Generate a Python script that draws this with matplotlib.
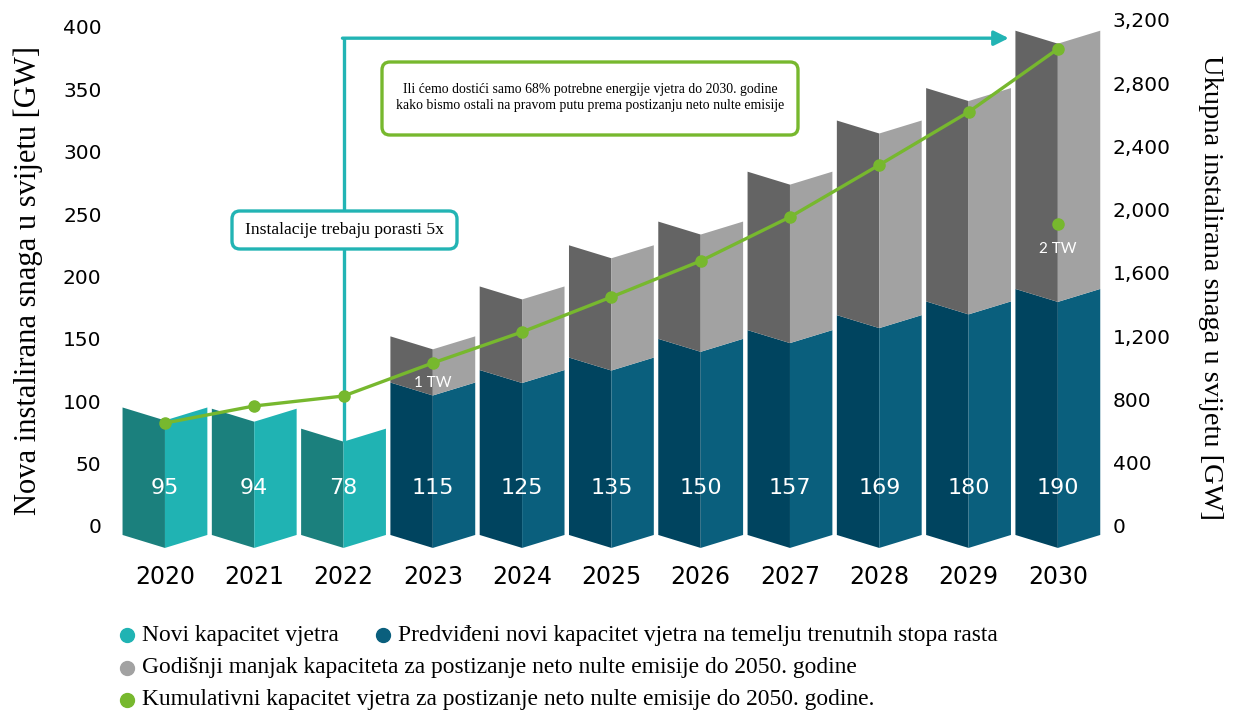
"""Nova i kumulativna instalirana snaga vjetra (2020-2030), presavijeni stupci."""

import matplotlib
import numpy as np

matplotlib.use("Agg")
import matplotlib.pyplot as plt
from matplotlib.lines import Line2D
from matplotlib.patches import FancyBboxPatch, Polygon

SERIF = ["Liberation Serif", "DejaVu Serif"]
SANS = ["DejaVu Sans"]
SMALL = ["Lato", "DejaVu Sans"]

years = ["2020", "2021", "2022", "2023", "2024", "2025", "2026", "2027", "2028", "2029", "2030"]
new_actual = [95, 94, 78]                                   # 2020-2022
new_projected = [115, 125, 135, 150, 157, 169, 180, 190]    # 2023-2030
shortfall = [37, 67, 90, 94, 127, 156, 171, 207]            # 2023-2030
cumulative_nz = [651, 759, 822, 1031, 1227, 1448, 1676, 1954, 2283, 2618, 3017]
current_2030 = 1910

C_TEAL = ("#1b807d", "#20b3b3")
C_BLUE = ("#00445f", "#0a5f7d")
C_GRAY = ("#646464", "#a2a2a2")
C_GREEN = "#77b82e"
C_ARROW = "#22b4b4"

W = 0.475    # pola sirine stupca
D = 10.4     # dubina pregiba
BASE = -7.2


def folded(ax, x, y0, y1, colors):
    left = [(x - W, y0), (x, y0 - D), (x, y1 - D), (x - W, y1)]
    right = [(x, y0 - D), (x + W, y0), (x + W, y1), (x, y1 - D)]
    ax.add_patch(Polygon(left, closed=True, fc=colors[0], ec="none", zorder=2))
    ax.add_patch(Polygon(right, closed=True, fc=colors[1], ec="none", zorder=2))


def box(fig, px, py, pw, ph, color):
    # okvir u pikselima slike (gore-lijevo ishodiste), crta se u inchima
    fig.add_artist(FancyBboxPatch(
        (px / 100, (713 - py - ph) / 100), pw / 100, ph / 100,
        boxstyle="round,pad=0,rounding_size=0.08", fc="white", ec=color, lw=2.4,
        transform=fig.dpi_scale_trans, zorder=5))


fig = plt.figure(figsize=(12.34, 7.13), dpi=100)
ax = fig.add_axes([0.0891, 0.2098, 0.807, 0.7622])
ax.set_xlim(-0.616, 10.537)
ax.set_ylim(-30, 405.6)
ax2 = ax.twinx()
ax2.set_ylim(-236.7, 3200)

x = np.arange(len(years))
for i, v in enumerate(new_actual):
    folded(ax, x[i], BASE, v, C_TEAL)
    ax.text(x[i], 30.5, str(v), color="white", ha="center", va="center",
            fontsize=16, family=SANS, zorder=4)
for j, (b, g) in enumerate(zip(new_projected, shortfall)):
    i = j + len(new_actual)
    folded(ax, x[i], BASE, b, C_BLUE)
    folded(ax, x[i], b, b + g, C_GRAY)
    ax.text(x[i], 30.5, str(b), color="white", ha="center", va="center",
            fontsize=16, family=SANS, zorder=4)

# strelica "5x"
ax.plot([x[2], x[2]], [new_actual[2] - D, 391], color=C_ARROW, lw=2.4, zorder=3,
        solid_capstyle="butt")
ax.annotate("", xy=(9.45, 391), xytext=(x[2] - 0.012, 391),
            arrowprops=dict(arrowstyle="-|>", color=C_ARROW, lw=2.4,
                            mutation_scale=22, shrinkA=0, shrinkB=0), zorder=3)

box(fig, 232, 211, 225, 38, C_ARROW)
fig.text(344.5 / 1234, 1 - 230 / 713, "Instalacije trebaju porasti 5x",
         ha="center", va="center", fontsize=12.6, family=SERIF, zorder=6)
box(fig, 382, 62, 416, 73, C_GREEN)
fig.text(590 / 1234, 1 - 97.5 / 713,
         "Ili ćemo dostići samo 68% potrebne energije vjetra do 2030. godine\n"
         "kako bismo ostali na pravom putu prema postizanju neto nulte emisije",
         ha="center", va="center", fontsize=9.9, family=SERIF, linespacing=1.35,
         zorder=6)

# kumulativna linija
ax2.plot(x, cumulative_nz, color=C_GREEN, lw=2.4, marker="o", ms=8, zorder=6)
ax2.plot([x[-1]], [current_2030], color=C_GREEN, marker="o", ms=8, ls="none", zorder=6)
ax2.text(x[3], 905, "1 TW", color="white", ha="center", va="center", fontsize=11,
         family=SMALL, zorder=6)
ax2.text(x[-1], 1750, "2 TW", color="white", ha="center", va="center", fontsize=11,
         family=SMALL, zorder=6)

ax.set_yticks(np.arange(0, 401, 50))
ax.set_yticklabels([str(v) for v in range(0, 401, 50)], family=SANS, fontsize=14.5)
ax2.set_yticks(np.arange(0, 3201, 400))
ax2.set_yticklabels([f"{v:,}" for v in range(0, 3201, 400)], family=SANS, fontsize=14.5)
ax.set_xticks(x)
ax.set_xticklabels(years, family=SANS, fontsize=17)
ax.tick_params(axis="x", length=0, pad=1)
ax.tick_params(axis="y", length=0, pad=6)
ax2.tick_params(axis="y", length=0, pad=5)
for a in (ax, ax2):
    for s in a.spines.values():
        s.set_visible(False)

fig.text(0.0227, 0.607, "Nova instalirana snaga u svijetu [GW]", rotation=90,
         ha="center", va="center", fontsize=22, family=SERIF)
fig.text(0.981, 0.597, "Ukupna instalirana snaga u svijetu [GW]", rotation=-90,
         ha="center", va="center", fontsize=20.5, family=SERIF)

# legenda
legend_items = [
    (127, 635, C_TEAL[1], "Novi kapacitet vjetra"),
    (383, 635, C_BLUE[1], "Predviđeni novi kapacitet vjetra na temelju trenutnih stopa rasta"),
    (127, 668, C_GRAY[1], "Godišnji manjak kapaciteta za postizanje neto nulte emisije do 2050. godine"),
    (127, 700, C_GREEN, "Kumulativni kapacitet vjetra za postizanje neto nulte emisije do 2050. godine."),
]
for px, py, col, label in legend_items:
    fx, fy = px / 1234, 1 - py / 713
    fig.add_artist(Line2D([fx], [fy], marker="o", ms=10, color=col, ls="none",
                          transform=fig.transFigure))
    fig.text(fx + 15 / 1234, fy, label, ha="left", va="center", fontsize=16.9,
             family=SERIF)

fig.savefig("out.png")
